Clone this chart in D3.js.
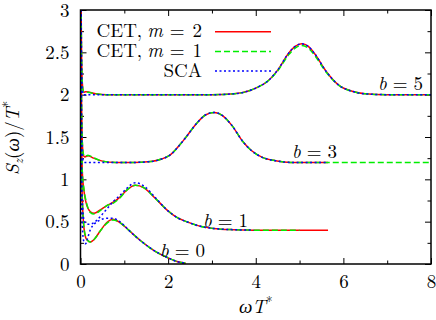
<!DOCTYPE html>
<html>
<head>
<meta charset="utf-8">
<script src="https://cdn.jsdelivr.net/npm/d3@7"></script>
<style>
  body { margin: 0; background: #fff; }
</style>
</head>
<body>
<div id="chart-container"></div>
<script>
const containerWidth = 436;
const containerHeight = 320;
const serif = '"Latin Modern Roman", "Liberation Serif", serif';

// tick values
const xMajor = [0, 2, 4, 6, 8];
const xMinor = [1, 3, 5, 7];
const yMajor = [0, 0.5, 1, 1.5, 2, 2.5, 3];
const yMinor = [0.25, 0.75, 1.25, 1.75, 2.25, 2.75];

// b = 5
const omegaB5 = [0.005, 0.02, 0.04, 0.07, 0.12, 0.2, 0.35, 0.6, 1, 2, 3, 3.5, 3.87, 4.05, 4.25, 4.5, 4.75, 4.9, 5.05, 5.2, 5.35, 5.6, 5.9, 6.2, 6.5, 7, 8];
const cet2B5 = [3.8, 2.7, 2.15, 2.03, 2.035, 2.03, 2.01, 2.0, 2.0, 2.0, 2.0, 2.01, 2.05, 2.09, 2.15, 2.29, 2.49, 2.57, 2.6, 2.57, 2.48, 2.28, 2.11, 2.04, 2.01, 2.0, 2.0];
const cet1B5 = [3.8, 2.7, 2.15, 2.035, 2.035, 2.025, 2.01, 2.0, 2.0, 2.0, 2.0, 2.01, 2.05, 2.09, 2.15, 2.28, 2.47, 2.55, 2.58, 2.55, 2.46, 2.27, 2.11, 2.04, 2.01, 2.0, 2.0];
const scaB5 = [3.8, 2.6, 2.05, 2.0, 2.0, 2.0, 2.0, 2.0, 2.0, 2.0, 2.0, 2.01, 2.05, 2.09, 2.15, 2.29, 2.49, 2.57, 2.6, 2.57, 2.48, 2.28, 2.11, 2.04, 2.01, 2.0, 2.0];

// b = 3
const omegaB3 = [0.005, 0.02, 0.04, 0.07, 0.1, 0.17, 0.3, 0.5, 0.8, 1.2, 1.6, 1.85, 2.05, 2.35, 2.65, 2.85, 3.05, 3.25, 3.45, 3.7, 3.9, 4.15, 4.45, 4.8, 5.2, 5.65, 6, 7, 8];
const cet2B3 = [3.8, 2.2, 1.45, 1.28, 1.265, 1.28, 1.25, 1.215, 1.2, 1.2, 1.21, 1.24, 1.29, 1.46, 1.66, 1.76, 1.79, 1.75, 1.64, 1.45, 1.34, 1.26, 1.22, 1.2, 1.2, 1.2, null, null, null];
const cet1B3 = [3.8, 2.2, 1.45, 1.29, 1.27, 1.285, 1.255, 1.215, 1.2, 1.2, 1.21, 1.24, 1.29, 1.46, 1.66, 1.76, 1.79, 1.75, 1.64, 1.45, 1.34, 1.26, 1.22, 1.2, 1.2, 1.2, 1.2, 1.2, 1.2];
const scaB3 = [3.8, 2.0, 1.3, 1.21, 1.2, 1.2, 1.2, 1.2, 1.2, 1.2, 1.21, 1.24, 1.29, 1.46, 1.66, 1.76, 1.79, 1.75, 1.64, 1.45, 1.34, 1.26, 1.22, 1.2, 1.2, 1.2, null, null, null];

// b = 1
const omegaB1 = [0.005, 0.02, 0.04, 0.08, 0.12, 0.16, 0.22, 0.31, 0.45, 0.6, 0.75, 0.9, 1.05, 1.25, 1.45, 1.7, 1.97, 2.2, 2.42, 2.7, 3.03, 3.5, 3.95, 4.5, 5.0, 5.65];
const cet2B1 = [3.8, 1.6, 1.1, 0.86, 0.74, 0.67, 0.62, 0.6, 0.64, 0.69, 0.73, 0.79, 0.87, 0.93, 0.9, 0.78, 0.64, 0.55, 0.5, 0.45, 0.42, 0.405, 0.4, 0.4, 0.4, 0.4];
const cet1B1 = [3.8, 1.6, 1.1, 0.88, 0.76, 0.68, 0.61, 0.59, 0.63, 0.69, 0.72, 0.78, 0.87, 0.93, 0.9, 0.78, 0.64, 0.55, 0.5, 0.45, 0.42, 0.405, 0.4, 0.4, 0.4, null];
const scaB1 = [3.8, 1.3, 0.75, 0.52, 0.48, 0.47, 0.47, 0.49, 0.56, 0.65, 0.74, 0.81, 0.89, 0.96, 0.92, 0.79, 0.64, 0.55, 0.5, 0.45, 0.42, 0.405, 0.4, null, null, null];

// b = 0
const omegaB0 = [0.005, 0.02, 0.04, 0.08, 0.12, 0.16, 0.22, 0.31, 0.45, 0.6, 0.74, 0.9, 1.1, 1.36, 1.66, 1.97, 2.2, 2.4];
const cet2B0 = [3.8, 1.4, 0.8, 0.42, 0.31, 0.28, 0.26, 0.29, 0.39, 0.49, 0.53, 0.49, 0.4, 0.28, 0.165, 0.08, 0.03, 0.01];
const cet1B0 = [3.8, 1.4, 0.8, 0.43, 0.32, 0.28, 0.26, 0.29, 0.39, 0.48, 0.52, 0.49, 0.4, 0.28, 0.165, 0.08, 0.03, 0.01];
const scaB0 = [3.8, 1.0, 0.45, 0.26, 0.24, 0.3, 0.4, 0.47, 0.52, 0.54, 0.54, 0.5, 0.4, 0.28, 0.165, 0.08, 0.03, 0.01];

const bLabels = ["5", "3", "1", "0"];

const svg = d3.select("#chart-container")
  .append("svg")
  .attr("width", containerWidth)
  .attr("height", containerHeight);

const x = d3.scaleLinear().domain([0, 8]).range([80.5, 431]);
const y = d3.scaleLinear().domain([0, 3]).range([264, 10]);

svg.append("clipPath").attr("id", "plot-clip")
  .append("rect")
  .attr("x", 80.5).attr("y", 10)
  .attr("width", 431 - 80.5).attr("height", 264 - 10);

// axes (ticks pointing inwards)
function styleAxis(g) {
  g.select(".domain").remove();
  g.selectAll("line").attr("stroke", "#000").attr("stroke-width", 1);
  g.selectAll("text").style("font-family", serif).style("font-size", "19px").attr("fill", "#000");
}

svg.append("g").attr("transform", "translate(0,264)")
  .call(d3.axisBottom(x).tickValues(xMajor).tickSizeInner(-6).tickSizeOuter(0).tickPadding(11).tickFormat(d3.format("d")))
  .call(styleAxis);
svg.append("g").attr("transform", "translate(0,264)")
  .call(d3.axisBottom(x).tickValues(xMinor).tickSizeInner(-3.5).tickSizeOuter(0).tickFormat(""))
  .call(styleAxis);
svg.append("g").attr("transform", "translate(0,10)")
  .call(d3.axisTop(x).tickValues(xMajor).tickSizeInner(-6).tickSizeOuter(0).tickFormat(""))
  .call(styleAxis);
svg.append("g").attr("transform", "translate(0,10)")
  .call(d3.axisTop(x).tickValues(xMinor).tickSizeInner(-3.5).tickSizeOuter(0).tickFormat(""))
  .call(styleAxis);

svg.append("g").attr("transform", "translate(80.5,0)")
  .call(d3.axisLeft(y).tickValues(yMajor).tickSizeInner(-6).tickSizeOuter(0).tickPadding(11).tickFormat(d3.format("~g")))
  .call(styleAxis);
svg.append("g").attr("transform", "translate(80.5,0)")
  .call(d3.axisLeft(y).tickValues(yMinor).tickSizeInner(-3.5).tickSizeOuter(0).tickFormat(""))
  .call(styleAxis);
svg.append("g").attr("transform", "translate(431,0)")
  .call(d3.axisRight(y).tickValues(yMajor).tickSizeInner(-6).tickSizeOuter(0).tickFormat(""))
  .call(styleAxis);
svg.append("g").attr("transform", "translate(431,0)")
  .call(d3.axisRight(y).tickValues(yMinor).tickSizeInner(-3.5).tickSizeOuter(0).tickFormat(""))
  .call(styleAxis);

// curves
const line = d3.line()
  .defined(d => d[1] !== null)
  .x(d => x(d[0]))
  .y(d => y(d[1]))
  .curve(d3.curveMonotoneX);

const methods = [
  { name: "CET2", color: "#ff0000", dash: null },
  { name: "CET1", color: "#00ee00", dash: "6,3" },
  { name: "SCA", color: "#0000ff", dash: "2,2.5" }
];

const families = [
  { omega: omegaB5, series: [cet2B5, cet1B5, scaB5] },
  { omega: omegaB3, series: [cet2B3, cet1B3, scaB3] },
  { omega: omegaB1, series: [cet2B1, cet1B1, scaB1] },
  { omega: omegaB0, series: [cet2B0, cet1B0, scaB0] }
];

const plot = svg.append("g").attr("clip-path", "url(#plot-clip)");
methods.forEach((m, mi) => {
  families.forEach(f => {
    const pts = f.omega.map((w, i) => [w, f.series[mi][i]]);
    plot.append("path")
      .datum(pts)
      .attr("fill", "none")
      .attr("stroke", m.color)
      .attr("stroke-width", 1.5)
      .attr("stroke-dasharray", m.dash)
      .attr("d", line);
  });
});

// frame
svg.append("rect")
  .attr("x", 80.5).attr("y", 10)
  .attr("width", 431 - 80.5).attr("height", 264 - 10)
  .attr("fill", "none").attr("stroke", "#000").attr("stroke-width", 1.5);

// legend
const legendRows = [
  { label: "CET,", italic: "m", rest: "2" },
  { label: "CET,", italic: "m", rest: "1" },
  { label: "SCA", italic: null, rest: null }
];
legendRows.forEach((r, i) => {
  const yy = 31.7 + i * 19.7;
  const t = svg.append("text")
    .attr("x", 202).attr("y", yy + 5.5)
    .attr("text-anchor", "end")
    .style("font-family", serif).style("font-size", "19px");
  t.append("tspan").text(r.label);
  if (r.italic) {
    t.append("tspan").attr("dx", 5).style("font-style", "italic").text(r.italic);
    t.append("tspan").attr("dx", 7).text("=");
    t.append("tspan").attr("dx", 8).text(r.rest);
  }
  svg.append("line")
    .attr("x1", 215).attr("x2", 271)
    .attr("y1", yy).attr("y2", yy)
    .attr("stroke", methods[i].color)
    .attr("stroke-width", 1.5)
    .attr("stroke-dasharray", methods[i].dash);
});

// b labels
const bPos = [[378, 90], [292, 158], [203, 227], [160, 257]];
bLabels.forEach((b, i) => {
  const t = svg.append("text")
    .attr("x", bPos[i][0]).attr("y", bPos[i][1])
    .style("font-family", serif).style("font-size", "19px");
  t.append("tspan").style("font-style", "italic").text("b");
  t.append("tspan").attr("dx", 6).text("=");
  t.append("tspan").attr("dx", 6).text(b);
});

// axis titles
const xt = svg.append("text")
  .attr("x", 255.7).attr("y", 313)
  .attr("text-anchor", "middle")
  .style("font-family", serif).style("font-size", "19px");
xt.append("tspan").style("font-style", "italic").text("ωT");
xt.append("tspan").attr("dy", -7).style("font-size", "13px").text("*");

const yt = svg.append("text")
  .attr("transform", "translate(19,138) rotate(-90)")
  .attr("text-anchor", "middle")
  .style("font-family", serif).style("font-size", "19px");
yt.append("tspan").style("font-style", "italic").text("S");
yt.append("tspan").attr("dy", 4).style("font-size", "13px").style("font-style", "italic").text("z");
yt.append("tspan").attr("dy", -4).text("(");
yt.append("tspan").style("font-style", "italic").text("ω");
yt.append("tspan").text(")/");
yt.append("tspan").style("font-style", "italic").text("T");
yt.append("tspan").attr("dy", -7).style("font-size", "13px").text("*");
</script>
</body>
</html>
